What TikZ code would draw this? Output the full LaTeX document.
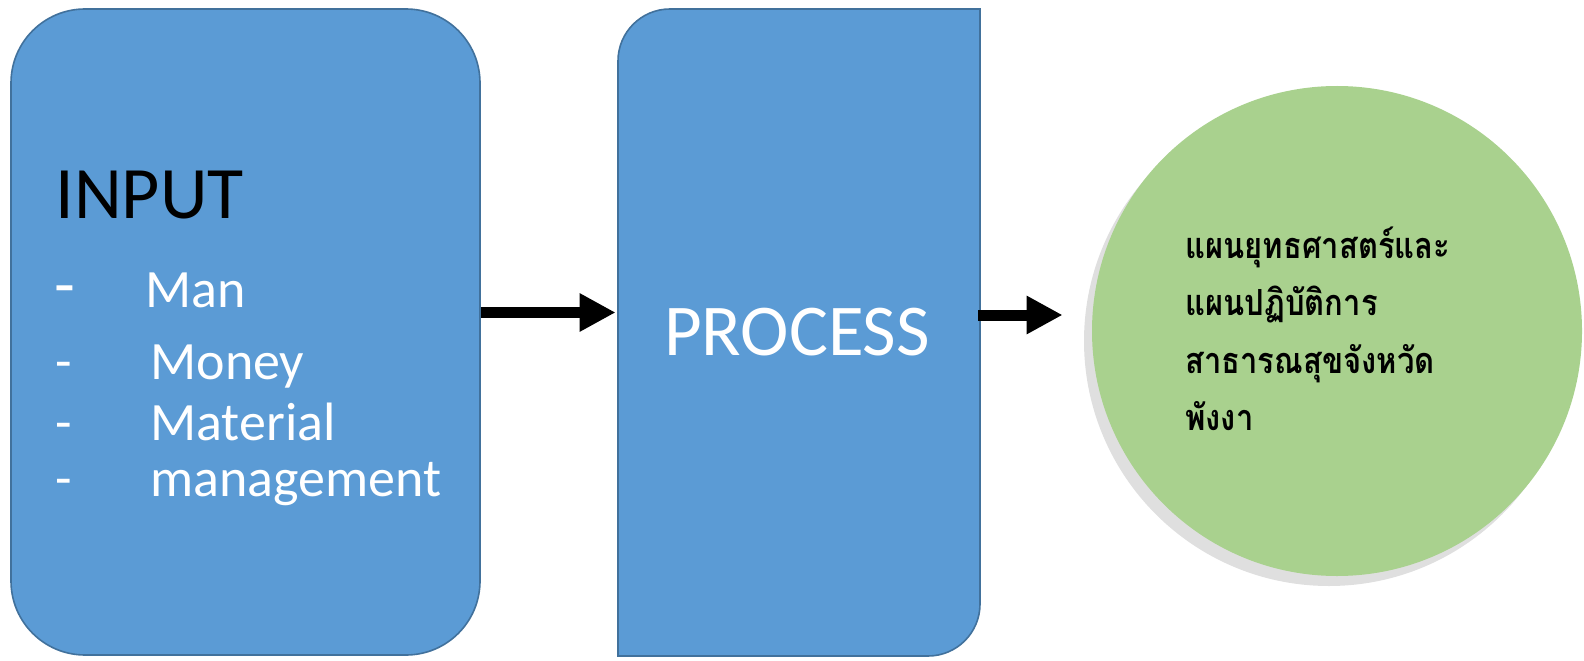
\documentclass[tikz,border=0pt]{standalone}
\usepackage{fontspec}
\setmainfont{Carlito}
\newfontfamily\thaifont[Script=Thai, FakeStretch=0.86]{Loma}
\usetikzlibrary{arrows.meta,shadows}
\definecolor{boxblue}{HTML}{5B9BD5}
\definecolor{boxedge}{HTML}{41719C}
\definecolor{goalgreen}{HTML}{A9D18E}
\tikzset{
  blockbox/.style={fill=boxblue, draw=boxedge, line width=0.8pt},
  flowarrow/.style={line width=5.5pt, -{Triangle[length=18pt,width=18pt]}},
  itemtext/.style={text=white, anchor=base west, inner sep=0pt, font=\fontsize{27}{32}\selectfont},
  goaltext/.style={anchor=base west, inner sep=0pt, font=\thaifont\bfseries\fontsize{18}{24}\selectfont},
}
\begin{document}
\begin{tikzpicture}[x=0.5pt,y=0.5pt]
\useasboundingbox (0,0) rectangle (1584,660);
% input block
\node (input) [blockbox, rounded corners=37pt, minimum width=234.5pt, minimum height=323pt, inner sep=0pt] at (245.5,328) {};
\node (intitle) [anchor=base west, inner sep=0pt, font=\fontsize{37}{44}\selectfont] at (55,442) {INPUT};
\node (dash1) [itemtext, font=\fontsize{34}{40}\selectfont] at (54,353) {-};
\node (item1) [itemtext] at (145,353) {Man};
\node (dash2) [itemtext] at (55,281) {-};
\node (item2) [itemtext] at (150,281) {Money};
\node (dash3) [itemtext] at (55,220) {-};
\node (item3) [itemtext] at (150,220) {Material};
\node (dash4) [itemtext] at (55,164) {-};
\node (item4) [itemtext] at (150,164) {management};

% process block
\draw[blockbox] (618,4) -- (618,599) arc[start angle=180, end angle=90, radius=26pt]
  -- (980,651) -- (980,56) arc[start angle=0, end angle=-90, radius=26pt] -- cycle;
\node (process) [minimum width=181pt, minimum height=323pt, inner sep=0pt, text=white,
  font=\fontsize{36.5}{44}\selectfont] at (797,328) {PROCESS};

% goal
\node (goal) [circle, fill=goalgreen, minimum size=245pt, inner sep=0pt,
  drop shadow={shadow xshift=-4pt, shadow yshift=-5pt, opacity=0.25}] at (1337,329) {};
\node (goal1) [goaltext] at (1185,402) {แผนยุทธศาสตร์และ};
\node (goal2) [goaltext] at (1185,345) {แผนปฏิบัติการ};
\node (goal3) [goaltext] at (1185,287) {สาธารณสุขจังหวัด};
\node (goal4) [goaltext] at (1185,230) {พังงา};

\draw[flowarrow] ([yshift=9.75pt]input.east) -- ([yshift=9.75pt]process.west);
\draw[flowarrow, shorten >=14.5pt] ([yshift=8.5pt]process.east) -- ([yshift=8.5pt]process.east -| goal.west);
\end{tikzpicture}
\end{document}
